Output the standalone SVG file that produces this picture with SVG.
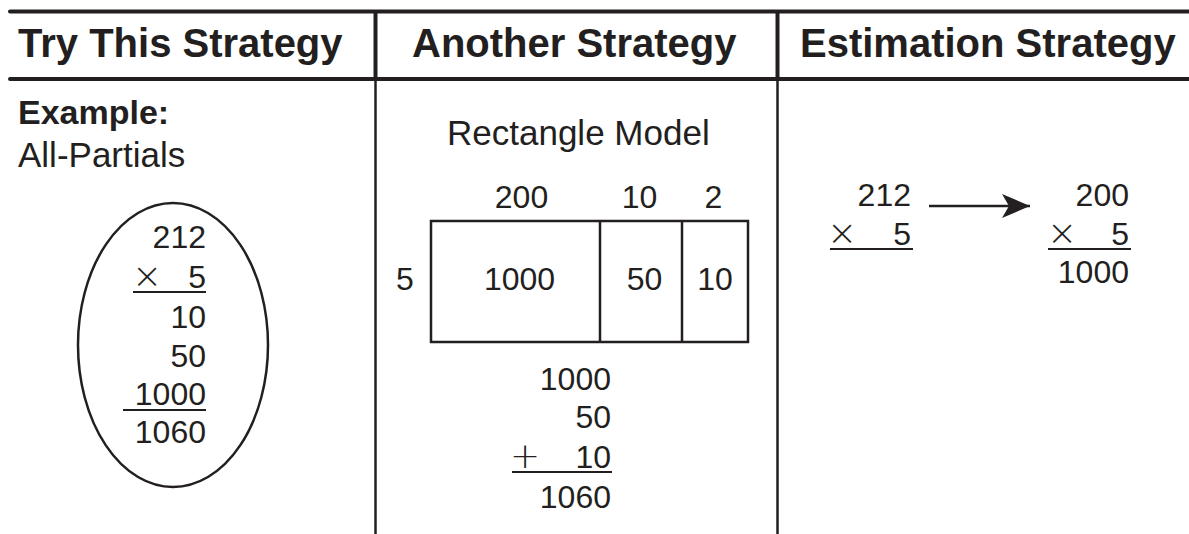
<svg xmlns="http://www.w3.org/2000/svg" width="1189" height="534" viewBox="0 0 1189 534">
<defs>
<style>
.hdr{font-family:"Liberation Sans",Arial,sans-serif;font-weight:bold;font-size:40px;fill:#231f20}
.lbl{font-family:"Liberation Sans",Arial,sans-serif;font-size:35px;fill:#231f20}
.num{font-family:"Liberation Sans",Arial,sans-serif;font-size:32px;fill:#231f20}
.op{font-family:"DejaVu Sans","Liberation Sans",sans-serif;font-weight:200;font-size:36px;fill:#231f20;text-anchor:middle}
.end{text-anchor:end}
.mid{text-anchor:middle}
.rule{stroke:#231f20;stroke-width:4;fill:none}
.thin{stroke:#231f20;stroke-width:2.5;fill:none}
.ul{stroke:#231f20;stroke-width:2;fill:none}
</style>
<marker id="ah" viewBox="0 0 28 24" refX="28" refY="12" markerWidth="28" markerHeight="24" markerUnits="userSpaceOnUse" orient="auto">
<path d="M0,0 L28,12 L0,24 L7,12 Z" fill="#231f20"/>
</marker>
</defs>
<rect width="1189" height="534" fill="#ffffff"/>

<g id="table">
<line class="rule" x1="10" y1="11.5" x2="1189" y2="11.5" stroke-linecap="round"/>
<line class="rule" x1="10" y1="79" x2="1189" y2="79" stroke-linecap="round"/>
<line class="rule" x1="375.5" y1="11.5" x2="375.5" y2="79"/>
<line class="rule" x1="777.5" y1="11.5" x2="777.5" y2="79"/>
<line class="thin" x1="375.5" y1="79" x2="375.5" y2="534"/>
<line class="thin" x1="777.5" y1="79" x2="777.5" y2="534"/>
<text class="hdr" x="18" y="57">Try This Strategy</text>
<text class="hdr" x="412" y="57">Another Strategy</text>
<text class="hdr" x="800" y="57">Estimation Strategy</text>
</g>

<g id="all-partials">
<text class="hdr" x="18" y="124" style="font-size:34px">Example:</text>
<text class="lbl" x="18" y="167">All-Partials</text>
<ellipse cx="173" cy="345" rx="95" ry="142" class="thin"/>
<text class="num end" x="206" y="248">212</text>
<text class="op" x="147" y="288">×</text>
<text class="num end" x="206" y="288">5</text>
<line class="ul" x1="133" y1="292" x2="206" y2="292"/>
<text class="num end" x="206" y="328">10</text>
<text class="num end" x="206" y="367">50</text>
<text class="num end" x="206" y="405">1000</text>
<line class="ul" x1="123" y1="410" x2="206" y2="410"/>
<text class="num end" x="206" y="443">1060</text>
</g>

<g id="rectangle-model">
<text class="lbl" x="447" y="145">Rectangle Model</text>
<text class="num mid" x="521.5" y="208">200</text>
<text class="num mid" x="639.5" y="208">10</text>
<text class="num mid" x="713.5" y="208">2</text>
<rect x="431" y="221" width="317" height="121" class="thin"/>
<line class="thin" x1="600" y1="221" x2="600" y2="342"/>
<line class="thin" x1="682" y1="221" x2="682" y2="342"/>
<text class="num mid" x="405" y="290">5</text>
<text class="num mid" x="519.5" y="290">1000</text>
<text class="num mid" x="644.5" y="290">50</text>
<text class="num mid" x="715" y="290">10</text>
<text class="num end" x="611" y="390">1000</text>
<text class="num end" x="611" y="428">50</text>
<text class="op" x="525" y="468">+</text>
<text class="num end" x="611" y="468">10</text>
<line class="ul" x1="512" y1="472" x2="612" y2="472"/>
<text class="num end" x="611" y="508">1060</text>
</g>

<g id="estimate-original">
<text class="num end" x="911" y="206">212</text>
<text class="op" x="842" y="245">×</text>
<text class="num end" x="911" y="245">5</text>
<line class="ul" x1="830" y1="249" x2="913" y2="249"/>
</g>

<g id="estimate-rounded">
<text class="num end" x="1129" y="206">200</text>
<text class="op" x="1062" y="245">×</text>
<text class="num end" x="1129" y="245">5</text>
<line class="ul" x1="1048" y1="249" x2="1131" y2="249"/>
<text class="num end" x="1129" y="283">1000</text>
</g>

<g id="connectors">
<line x1="929" y1="206" x2="1030" y2="206" stroke="#231f20" stroke-width="2.5" marker-end="url(#ah)"/>
</g>
</svg>
